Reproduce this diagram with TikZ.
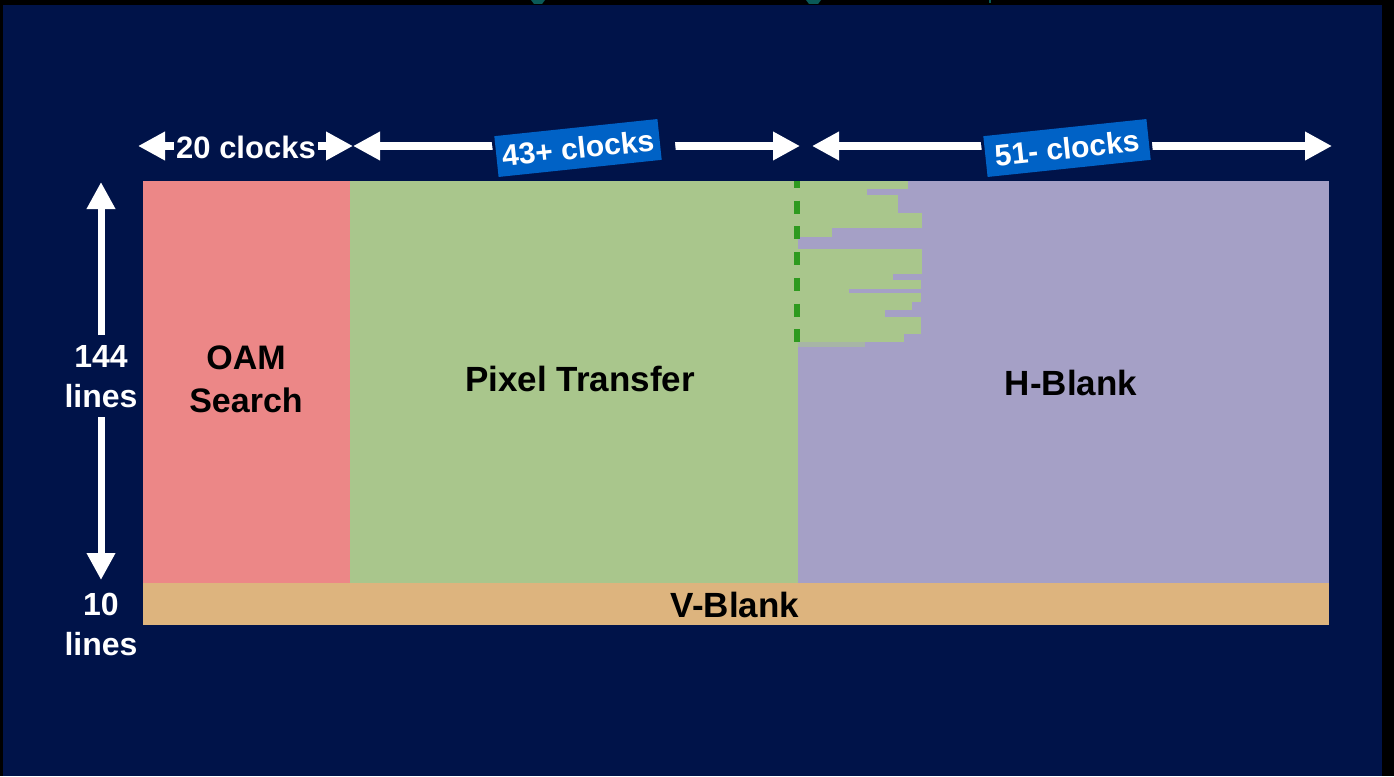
\documentclass[tikz,border=0pt]{standalone}
\usepackage{fontspec}
\setmainfont{Liberation Sans}
\usetikzlibrary{arrows.meta}
\definecolor{navy}{HTML}{001349}
\definecolor{oamc}{HTML}{EC8787}
\definecolor{pixc}{HTML}{A9C68C}
\definecolor{hbc}{HTML}{A5A0C6}
\definecolor{vbc}{HTML}{DDB47E}
\definecolor{dashg}{HTML}{2E9A1F}
\definecolor{boxb}{HTML}{0062C6}
\definecolor{tealbit}{HTML}{0A5A58}
\tikzset{
  dimarrow/.style={draw=white, line width=8pt,
    {Triangle[length=27pt,width=27pt]}-{Triangle[length=27pt,width=27pt]}},
  onearrow/.style={draw=white, line width=7pt, -{Triangle[length=27pt,width=27pt]}},
  seglabel/.style={font=\bfseries\fontsize{35}{42}\selectfont, text=black, align=center},
  sidelabel/.style={font=\bfseries\fontsize{32}{40}\selectfont, text=white, align=center},
  toplabel/.style={font=\bfseries\fontsize{31}{36}\selectfont, text=white, fill=navy, inner xsep=2pt, inner ysep=4pt},
  bluebox/.style={font=\bfseries\fontsize{30}{36}\selectfont, text=white, fill=boxb,
    minimum width=164pt, minimum height=41pt, inner sep=0pt, rotate=6},
  gapbox/.style={fill=navy, minimum height=43pt, inner sep=0pt, rotate=6}
}
\begin{document}
\begin{tikzpicture}[x=1pt,y=-1pt]
\useasboundingbox (0,0) rectangle (1394,776);
% frame and background
\fill[black] (0,0) rectangle (1394,776);
\fill[navy] (3,5) rectangle (1382,776);
\fill[tealbit] (531,0) -- (545,0) -- (542,4) -- (534,4) -- cycle;
\fill[tealbit] (806,0) -- (821,0) -- (818,4) -- (809,4) -- cycle;
\fill[tealbit] (989,0) rectangle (991,3);
% segments
\fill[oamc] (143,181) rectangle (350,583);
\fill[pixc] (350,181) rectangle (798,583);
\fill[hbc] (798,181) rectangle (1329,583);
\fill[vbc] (143,583) rectangle (1329,625);
% jagged pixel-transfer extension
\foreach \ya/\yb/\xe in {181/189/908, 189/195/867, 195/213/898, 213/228/922,
  228/237/832, 249/274/922, 274/280/893, 280/289/921, 289/293/849,
  293/302/921, 302/310/912, 310/317/885, 317/334/921, 334/342/904}
  \fill[pixc] (798,\ya) rectangle (\xe,\yb);
\fill[pixc!55!hbc] (798,342) rectangle (865,347);
% dashed marker
\coordinate (dtop) at (797,181);
\coordinate (dbot) at (797,343);
\draw[dashg, line width=6pt, dash pattern=on 13pt off 12.7pt, dash phase=6pt] (dtop) -- (dbot);
% labels inside
\node[seglabel, font=\bfseries\fontsize{34}{43}\selectfont] (oam) at (246,379) {OAM\\Search};
\node[seglabel] (pix) at (580,379) {Pixel Transfer};
\node[seglabel] (hb) at (1071,383) {H-Blank};
\node[seglabel] (vb) at (735,605) {V-Blank};
% side labels and arrows
\node[sidelabel] (l144) at (101,377) {144\\lines};
\node[sidelabel] (l10) at (101,624) {10\\lines};
\coordinate (upS) at (101,335);
\coordinate (upT) at (101,182);
\coordinate (dnS) at (101,417);
\coordinate (dnT) at (101,580);
\draw[onearrow] (upS) -- (upT);
\draw[onearrow] (dnS) -- (dnT);
% top dimension arrows
\coordinate (a1L) at (138,146);
\coordinate (a1R) at (353,146);
\coordinate (a2L) at (353,146);
\coordinate (a2R) at (800,146);
\coordinate (a3L) at (812,146);
\coordinate (a3R) at (1332,146);
\draw[dimarrow] (a1L) -- (a1R);
\draw[dimarrow] (a2L) -- (a2R);
\draw[dimarrow] (a3L) -- (a3R);
\node[toplabel] (t20) at (246,147) {20 clocks};
\node[gapbox, minimum width=182pt] (g43) at (584,148) {};
\node[gapbox, minimum width=170pt] (g51) at (1067,148) {};
\node[bluebox] (t43) at (578,148) {43+ clocks};
\node[bluebox] (t51) at (1067,148) {51- clocks};
\end{tikzpicture}
\end{document}
